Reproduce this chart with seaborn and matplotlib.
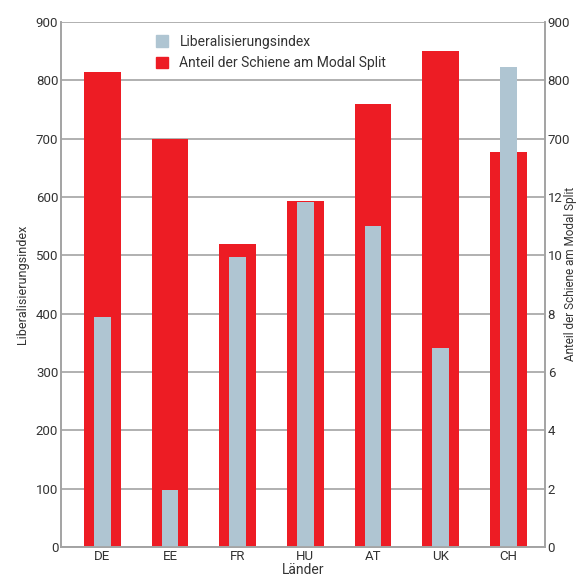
import matplotlib
matplotlib.use("Agg")
import matplotlib.pyplot as plt
from matplotlib import font_manager
from matplotlib.patches import Patch
import seaborn as sns

# Data
countries = ["DE", "EE", "FR", "HU", "AT", "UK", "CH"]
liberal_index = [395, 97, 498, 592, 551, 342, 823]          # left axis
rail_share = [16.3, 14.0, 10.4, 11.85, 15.2, 17.0, 13.55]     # right axis (%)
right_ticks = [0, 2, 4, 6, 8, 10, 12, 14, 16, 18]
right_labels = ["0", "2", "4", "6", "8", "10", "12", "700", "800", "900"]

RED = "#ED1C24"
BLUE = "#AFC5D2"
GREY = "#A3A3A3"
TEXT = "#333333"

sns.set_theme(style="white")
names = {f.name for f in font_manager.fontManager.ttflist}
family = [n for n in ["Liberation Sans Narrow", "Roboto", "DejaVu Sans"] if n in names]
plt.rcParams["font.family"] = family

fig = plt.figure(figsize=(5.76, 5.81), dpi=100)
ax = fig.add_axes([0.106, 0.0585, 0.84, 0.9035])
ax2 = ax.twinx()
ax.set_zorder(ax2.get_zorder() + 1)
ax.patch.set_visible(False)

# red bars on the right axis, blue in front on the left axis
sns.barplot(x=countries, y=rail_share, ax=ax2, color=RED, width=0.545,
            saturation=1, linewidth=0)
sns.barplot(x=countries, y=liberal_index, ax=ax, color=BLUE, width=0.25,
            saturation=1, linewidth=0)

ax.set_ylim(0, 900)
ax2.set_ylim(0, 18)
ax.set_xlim(-0.61, 6.54)
ax.set_yticks(range(0, 901, 100))
ax2.set_yticks(right_ticks)
ax2.set_yticklabels(right_labels)

ax2.grid(axis="y", color=GREY, linewidth=1.2)
ax.grid(False)
ax2.set_axisbelow(True)

for a in (ax, ax2):
    for side, sp in a.spines.items():
        sp.set_color(GREY)
        sp.set_linewidth(1.2)
    a.spines["top"].set_visible(False)
    a.tick_params(length=0, labelsize=9.5, labelcolor=TEXT, pad=2)

ax.set_ylabel("Liberalisierungsindex", fontsize=9, color=TEXT, labelpad=5)
ax2.set_ylabel("Anteil der Schiene am Modal Split", fontsize=8.5, color=TEXT)
ax2.yaxis.set_label_coords(1.039, 0.52)
ax.set_xlabel("Länder", fontsize=10, color=TEXT, labelpad=0)

handles = [Patch(color=BLUE, label="Liberalisierungsindex"),
           Patch(color=RED, label="Anteil der Schiene am Modal Split")]
ax.legend(handles=handles, loc="upper left", bbox_to_anchor=(0.17, 1.0),
          frameon=False, fontsize=10, handlelength=0.9, handleheight=0.9,
          handletextpad=0.8, labelcolor=TEXT, labelspacing=0.55)

fig.savefig("out.png", dpi=100)
